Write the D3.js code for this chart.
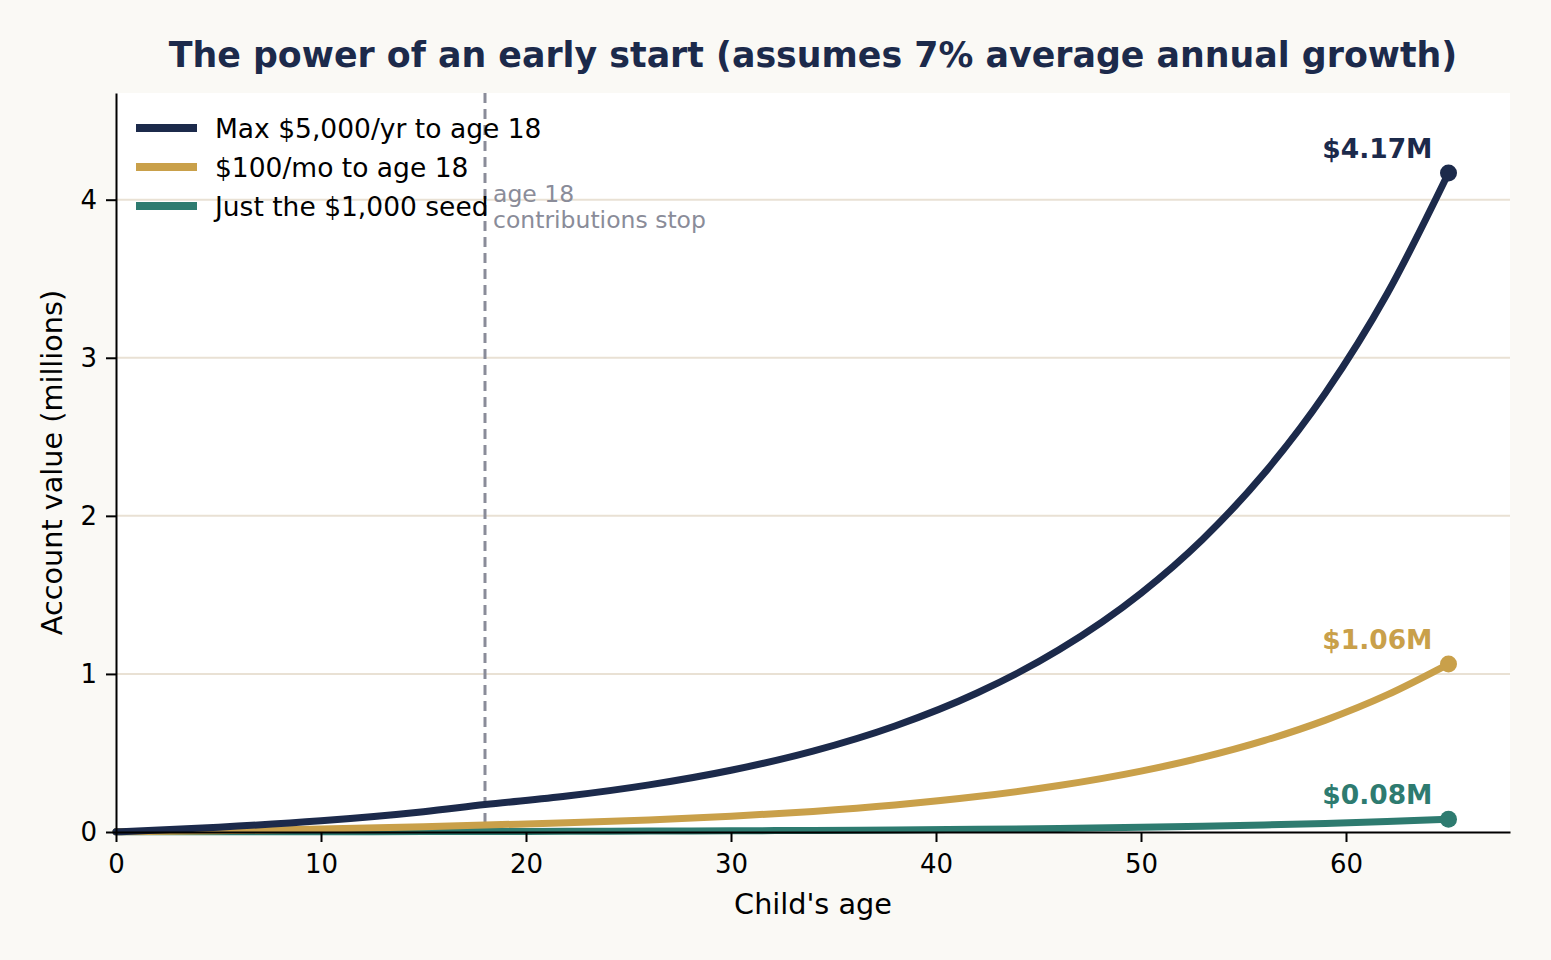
<!DOCTYPE html>
<html>
<head>
<meta charset="utf-8">
<script src="https://cdn.jsdelivr.net/npm/d3@7"></script>
<style>
  body { margin: 0; background: #faf9f5; }
  svg { display: block; font-family: "DejaVu Sans", sans-serif; }
  .axis text { font-family: "DejaVu Sans", sans-serif; font-size: 26px; fill: #000; }
  .axis .tick line { stroke: #000; stroke-width: 2; }
  .axis .domain { stroke: #000; stroke-width: 2; }
</style>
</head>
<body>
<svg id="chart" width="1551" height="960"></svg>
<script>

// ages (years) and account values (millions of $)
var ages      = [0, 5, 10, 15, 18, 22, 26, 30, 34, 38, 42, 46, 50, 53, 56, 59, 62, 65];
var maxPlan   = [0.001, 0.0302, 0.0710, 0.1284, 0.1734, 0.2273, 0.2979, 0.3905, 0.5118, 0.6709,
                 0.8794, 1.1527, 1.5110, 1.8511, 2.2676, 2.7779, 3.4031, 4.1689];
var monthly   = [0.001, 0.0083, 0.0185, 0.0329, 0.0442, 0.0579, 0.0759, 0.0995, 0.1304, 0.1710,
                 0.2241, 0.2937, 0.3850, 0.4717, 0.5778, 0.7079, 0.8672, 1.0623];
var seedOnly  = [0.001, 0.0014, 0.0020, 0.0028, 0.0034, 0.0044, 0.0058, 0.0076, 0.0100, 0.0131,
                 0.0171, 0.0225, 0.0295, 0.0361, 0.0442, 0.0542, 0.0663, 0.0813];
var endLabels = ["$4.17M", "$1.06M", "$0.08M"];
var seriesNames = ["Max $5,000/yr to age 18", "$100/mo to age 18", "Just the $1,000 seed"];
var colors = ["#1c2a4b", "#c9a04a", "#2e7b70"];
var xTicks = [0, 10, 20, 30, 40, 50, 60];
var yTicks = [0, 1, 2, 3, 4];
var stopAge = 18;

var series = [maxPlan, monthly, seedOnly].map(function(vals, i) {
  return {
    name: seriesNames[i],
    color: colors[i],
    label: endLabels[i],
    values: vals.map(function(v, j) { return [ages[j], v]; })
  };
});

var margin = {top: 93, right: 41, bottom: 128, left: 116},
    width = 1551 - margin.left - margin.right,
    height = 960 - margin.top - margin.bottom;

var svg = d3.select("#chart");

var x = d3.scaleLinear().domain([0, 68]).range([0, width]);
var y = d3.scaleLinear().domain([0, 4.675]).range([height, 0]);

var g = svg.append("g")
    .attr("transform", "translate(" + margin.left + "," + margin.top + ")");

g.append("rect")
    .attr("width", width)
    .attr("height", height)
    .attr("fill", "#ffffff");

// horizontal grid
g.selectAll(".grid")
    .data(yTicks.filter(function(d) { return d > 0; }))
  .enter().append("line")
    .attr("class", "grid")
    .attr("x1", 0)
    .attr("x2", width)
    .attr("y1", function(d) { return y(d); })
    .attr("y2", function(d) { return y(d); })
    .style("stroke", "#e9e1d4")
    .style("stroke-width", 2);

// age 18 marker
g.append("line")
    .attr("x1", x(stopAge))
    .attr("x2", x(stopAge))
    .attr("y1", 0)
    .attr("y2", height)
    .style("stroke", "#8a8c99")
    .style("stroke-width", 3)
    .style("stroke-dasharray", "10,6");

var note = g.append("text")
    .attr("x", x(stopAge) + 8)
    .attr("y", y(4.0) + 2)
    .style("font-size", "23.5px")
    .style("fill", "#8a8c99");
note.append("tspan").attr("x", x(stopAge) + 8).text("age 18");
note.append("tspan").attr("x", x(stopAge) + 8).attr("dy", "1.13em").text("contributions stop");

var line = d3.line()
    .x(function(d) { return x(d[0]); })
    .y(function(d) { return y(d[1]); })
    .curve(d3.curveMonotoneX);

// draw seed first so the big line sits on top
series.slice().reverse().forEach(function(s) {
  g.append("path")
      .datum(s.values)
      .attr("d", line)
      .style("fill", "none")
      .style("stroke", s.color)
      .style("stroke-width", 7)
      .style("stroke-linecap", "round");
});

series.forEach(function(s) {
  var last = s.values[s.values.length - 1];
  g.append("circle")
      .attr("cx", x(last[0]))
      .attr("cy", y(last[1]))
      .attr("r", 8.5)
      .style("fill", s.color);
  g.append("text")
      .attr("x", x(last[0]) - 16)
      .attr("y", y(last[1]) - 15)
      .style("text-anchor", "end")
      .style("font-size", "26.5px")
      .style("font-weight", "bold")
      .style("fill", s.color)
      .text(s.label);
});

// axes
g.append("g")
    .attr("class", "x axis")
    .attr("transform", "translate(0," + height + ")")
    .call(d3.axisBottom(x).tickValues(xTicks).tickFormat(d3.format("d"))
      .tickSize(10).tickPadding(13).tickSizeOuter(0));

g.append("g")
    .attr("class", "y axis")
    .call(d3.axisLeft(y).tickValues(yTicks).tickFormat(d3.format("d"))
      .tickSize(10).tickPadding(9).tickSizeOuter(0));

g.append("text")
    .attr("x", width / 2)
    .attr("y", height + 82)
    .style("text-anchor", "middle")
    .style("font-size", "28.7px")
    .text("Child's age");

g.append("text")
    .attr("transform", "translate(-54," + (height / 2) + ") rotate(-90)")
    .style("text-anchor", "middle")
    .style("font-size", "28.7px")
    .text("Account value (millions)");

svg.append("text")
    .attr("x", margin.left + width / 2)
    .attr("y", 67)
    .style("text-anchor", "middle")
    .style("font-size", "34.8px")
    .style("font-weight", "bold")
    .style("fill", "#1c2a4b")
    .text("The power of an early start (assumes 7% average annual growth)");

// legend
var legend = g.selectAll(".legend")
    .data(series)
  .enter().append("g")
    .attr("class", "legend")
    .attr("transform", function(d, i) { return "translate(20," + (35 + i * 39) + ")"; });

legend.append("line")
    .attr("x1", 0)
    .attr("x2", 61)
    .style("stroke", function(d) { return d.color; })
    .style("stroke-width", 8);

legend.append("text")
    .attr("x", 79)
    .attr("dy", "0.36em")
    .style("font-size", "26.5px")
    .text(function(d) { return d.name; });

</script>
</body>
</html>
